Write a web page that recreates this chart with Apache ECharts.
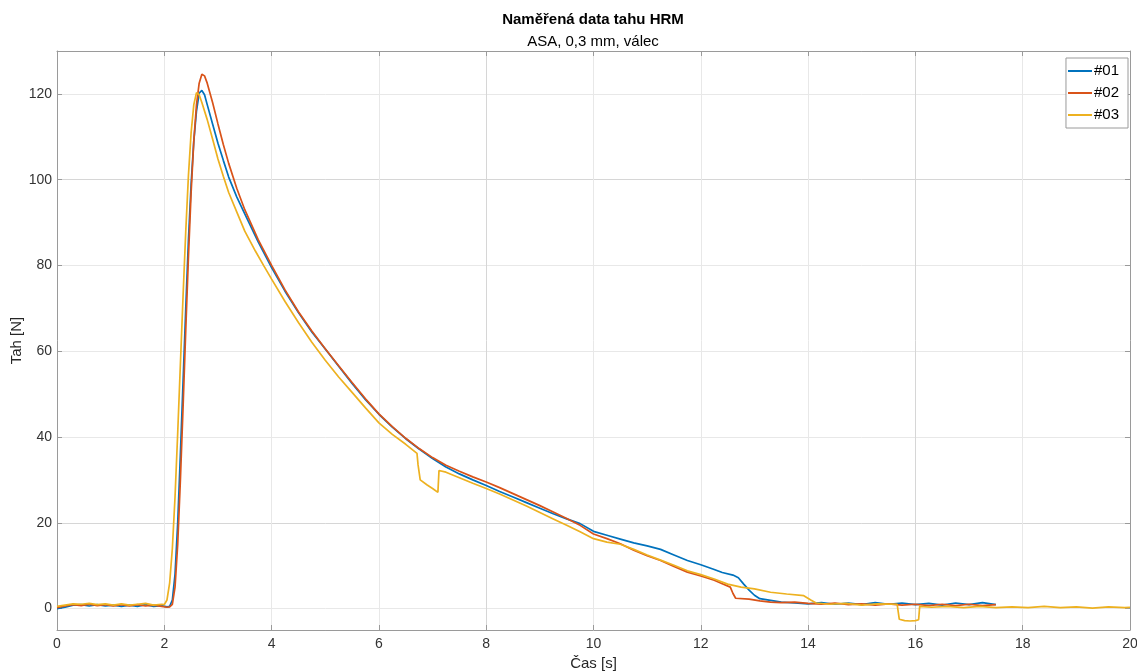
<!DOCTYPE html>
<html><head><meta charset="utf-8">
<script src="https://cdn.jsdelivr.net/npm/echarts@6/dist/echarts.min.js"></script>
<style>html,body{margin:0;padding:0;background:#fff}#c{width:1137px;height:672px}</style>
</head><body><div id="c"></div>
<script>
const titleText = 'Naměřená data tahu HRM';
const subtitleText = 'ASA, 0,3 mm, válec';
const xName = 'Čas [s]';
const yName = 'Tah [N]';
const seriesNames = ['#01', '#02', '#03'];
const xTicks = [0, 2, 4, 6, 8, 10, 12, 14, 16, 18, 20];
const yTicks = [0, 20, 40, 60, 80, 100, 120];

const t01 = [0,0.15,0.3,0.45,0.6,0.75,0.9,1.05,1.2,1.35,1.5,1.65,1.8,1.95,2.05,2.1,2.15,2.2,2.25,2.3,2.35,2.4,2.45,2.5,2.55,2.6,2.65,2.7,2.75,2.8,2.9,3.0,3.1,3.2,3.35,3.5,3.75,4.0,4.25,4.5,4.75,5.0,5.25,5.5,5.75,6.0,6.25,6.5,6.75,7.0,7.25,7.5,7.75,8.0,8.25,8.5,8.75,9.0,9.25,9.5,9.75,10.0,10.25,10.5,10.75,11.0,11.25,11.5,11.75,12.0,12.25,12.4,12.6,12.7,12.8,12.9,13.0,13.1,13.3,13.5,13.75,14.0,14.25,14.5,14.75,15.0,15.25,15.5,15.75,16.0,16.25,16.5,16.75,17.0,17.25,17.5];
const v01 = [0.0,0.3,0.8,0.9,0.6,0.9,0.6,0.8,0.5,0.8,0.5,0.9,0.5,0.7,0.4,0.5,2,8,20,36,53,70,86,99,109,116,120.2,120.8,119.8,117.5,113,108.5,104.5,100.6,96,92,85.5,79.5,74,69,64.5,60.5,56.5,52.5,48.7,45.3,42.3,39.6,37.2,35,33,31.4,30,28.7,27.3,26,24.7,23.4,22.1,20.9,19.8,18,17.1,16.2,15.3,14.6,13.8,12.5,11.2,10.2,9.1,8.4,7.8,7.2,5.7,4.3,3.1,2.3,1.9,1.5,1.3,1.1,1.4,1.0,1.3,0.9,1.4,1.0,1.3,0.9,1.2,0.8,1.3,0.9,1.4,0.9];

const t02 = [0,0.15,0.3,0.45,0.6,0.75,0.9,1.05,1.2,1.35,1.5,1.65,1.8,1.95,2.05,2.1,2.15,2.2,2.25,2.3,2.35,2.4,2.45,2.5,2.55,2.6,2.65,2.7,2.75,2.8,2.9,3.0,3.1,3.2,3.35,3.5,3.75,4.0,4.25,4.5,4.75,5.0,5.25,5.5,5.75,6.0,6.25,6.5,6.75,7.0,7.25,7.5,7.75,8.0,8.25,8.5,8.75,9.0,9.25,9.5,9.75,10.0,10.25,10.5,10.75,11.0,11.25,11.5,11.75,12.0,12.25,12.4,12.55,12.6,12.65,12.9,13.1,13.3,13.5,13.75,14.0,14.25,14.5,14.75,15.0,15.25,15.5,15.75,16.0,16.25,16.5,16.75,17.0,17.25,17.5];
const v02 = [0.2,0.6,0.9,0.7,1.0,0.7,0.9,0.6,0.9,0.6,0.9,0.6,0.8,0.5,0.3,0.4,1,5,15,30,47,65,82,97,109,117.5,122.5,124.6,124.2,122.5,118,113,108.2,103.8,98,93,86,80,74.3,69.2,64.7,60.6,56.6,52.7,48.9,45.4,42.4,39.7,37.3,35.2,33.4,32,30.7,29.5,28.2,26.8,25.4,24,22.5,21,19.4,17.4,16.3,15.1,13.6,12.3,11.2,9.8,8.5,7.6,6.6,5.8,5.0,3.5,2.4,2.2,1.8,1.5,1.4,1.5,1.2,1.0,1.3,0.9,1.1,0.8,1.1,0.8,1.0,0.7,1.0,0.7,1.0,0.7,0.9];

const t03 = [0,0.15,0.3,0.45,0.6,0.75,0.9,1.05,1.2,1.35,1.5,1.65,1.8,1.95,2.0,2.05,2.1,2.15,2.2,2.25,2.3,2.35,2.4,2.45,2.5,2.55,2.6,2.65,2.7,2.8,2.9,3.0,3.1,3.2,3.35,3.5,3.7,3.85,4.0,4.25,4.5,4.75,5.0,5.25,5.5,5.75,6.0,6.25,6.5,6.71,6.73,6.77,6.9,7.0,7.1,7.12,7.25,7.5,7.75,8.0,8.25,8.5,8.75,9.0,9.25,9.5,9.75,10.0,10.25,10.5,10.75,11.0,11.25,11.5,11.75,12.0,12.25,12.5,12.75,13.0,13.3,13.6,13.92,14.05,14.15,14.4,14.7,15.0,15.3,15.66,15.7,15.8,15.9,16.0,16.06,16.08,16.3,16.6,16.9,17.2,17.5,17.8,18.1,18.4,18.7,19.0,19.3,19.6,19.9,20];
const v03 = [0.5,0.8,1.1,1.0,1.2,0.9,1.1,0.8,1.1,0.8,1.0,1.2,0.8,1.0,0.9,2,6,14,26,41,57,73,88,101,111,117.5,120.3,119.8,118,114,109.5,104.8,100.8,97,92.5,88,83.3,80,76.8,71.6,66.7,62.1,57.9,54,50.4,46.8,43.3,40.6,38.3,36.2,33.5,30,28.8,28,27.1,32.2,31.8,30.5,29.2,28,26.7,25.3,23.9,22.4,20.9,19.4,17.9,16.3,15.5,15.0,13.8,12.5,11.3,10.1,8.8,7.9,6.9,5.7,5.0,4.6,3.8,3.4,3.0,2.0,1.3,1.0,1.2,0.8,1.1,1.0,-2.5,-2.8,-2.9,-2.8,-2.6,0.5,0.3,0.5,0.2,0.5,0.2,0.4,0.2,0.5,0.2,0.4,0.1,0.4,0.2,0.3];

const colors = ['#0072BD', '#D95319', '#EDB120'];
const FONT = '"Liberation Sans", Arial, Helvetica, sans-serif';
const AX = '#9a9a9a';
const MAJ = '#d6d6d6';
const MIN = '#e8e8e8';

function zip(t, v) { return t.map((x, i) => [x, v[i]]); }
const seriesData = [zip(t01, v01), zip(t02, v02), zip(t03, v03)];

const chart = echarts.init(document.getElementById('c'), null, {renderer: 'canvas'});
chart.setOption({
  animation: false,
  backgroundColor: '#fff',
  textStyle: {fontFamily: FONT},
  title: [
    {text: titleText, left: 593, top: 11, textAlign: 'center', padding: 0,
     textStyle: {fontSize: 15, fontWeight: 'bold', color: '#000', fontFamily: FONT, lineHeight: 18}},
    {text: subtitleText, left: 593, top: 33, textAlign: 'center', padding: 0,
     textStyle: {fontSize: 15, fontWeight: 'normal', color: '#000', fontFamily: FONT, lineHeight: 18}}
  ],
  grid: {left: 57, right: 7, top: 51, bottom: 42, containLabel: false, outerBoundsMode: 'none'},
  legend: {
    data: seriesNames, orient: 'vertical', right: 9, top: 58,
    icon: 'rect',
    backgroundColor: '#fff', borderColor: AX, borderWidth: 1, borderRadius: 0,
    padding: [5, 9, 5, 2], itemWidth: 24, itemHeight: 2, itemGap: 6,
    textStyle: {fontSize: 15, color: '#000', fontFamily: FONT, padding: [0, 0, 0, -3], lineHeight: 16}
  },
  xAxis: [
    {type: 'value', min: 0, max: 20, interval: 0.5, position: 'bottom',
     name: xName, nameLocation: 'middle', nameGap: 26, nameMoveOverlap: false,
     nameTextStyle: {fontSize: 15, color: '#262626', fontFamily: FONT},
     axisLine: {show: true, onZero: false, lineStyle: {color: AX, width: 1}},
     axisTick: {show: true, inside: true, length: 5, customValues: xTicks, lineStyle: {color: AX}},
     axisLabel: {customValues: xTicks, fontSize: 14, color: '#333', margin: 7, fontFamily: FONT},
     splitLine: {show: true, lineStyle: {color: [MAJ, MIN, MIN, MIN], width: 1}}},
    {type: 'value', min: 0, max: 20, position: 'top',
     axisLine: {show: true, onZero: false, lineStyle: {color: AX, width: 1}},
     axisTick: {show: true, inside: true, length: 5, customValues: xTicks, lineStyle: {color: AX}},
     axisLabel: {show: false}, splitLine: {show: false}}
  ],
  yAxis: [
    {type: 'value', min: -5, max: 130, interval: 5, position: 'left',
     name: yName, nameLocation: 'middle', nameGap: 33, nameRotate: 90, nameMoveOverlap: false,
     nameTextStyle: {fontSize: 15, color: '#262626', fontFamily: FONT},
     axisLine: {show: true, onZero: false, lineStyle: {color: AX, width: 1}},
     axisTick: {show: true, inside: true, length: 5, customValues: yTicks, lineStyle: {color: AX}},
     axisLabel: {customValues: yTicks, fontSize: 14, color: '#333', margin: 5, fontFamily: FONT},
     splitLine: {show: true, lineStyle: {color: [MIN, MAJ, MIN, MIN], width: 1}}},
    {type: 'value', min: -5, max: 130, position: 'right',
     axisLine: {show: true, onZero: false, lineStyle: {color: AX, width: 1}},
     axisTick: {show: true, inside: true, length: 5, customValues: yTicks, lineStyle: {color: AX}},
     axisLabel: {show: false}, splitLine: {show: false}}
  ],
  series: seriesNames.map((n, i) => ({
    name: n, type: 'line', xAxisIndex: 0, yAxisIndex: 0,
    data: seriesData[i], symbol: 'none', showSymbol: false, smooth: false,
    color: colors[i], lineStyle: {color: colors[i], width: 1.7}, clip: true
  }))
});
</script>
</body></html>
